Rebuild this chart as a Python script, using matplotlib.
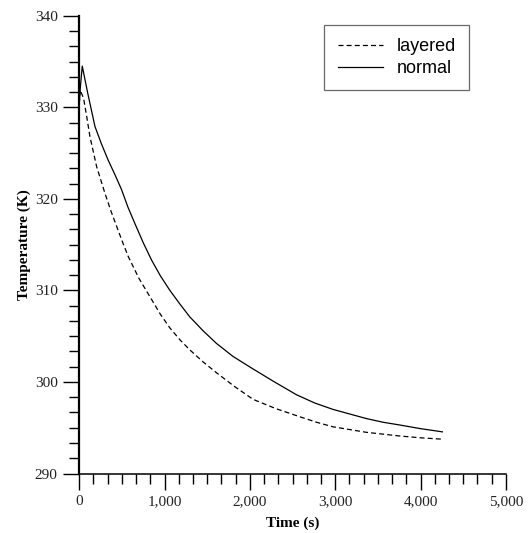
import matplotlib
matplotlib.use("Agg")
import matplotlib.pyplot as plt
from matplotlib.ticker import MultipleLocator, FuncFormatter

# Data
t_layered = [0, 10, 50, 87, 125, 204, 301, 370, 438, 506, 574, 700, 848, 950,
             1062, 1180, 1296, 1450, 1609, 1820, 2037, 2300, 2584, 2780, 2974,
             3170, 3365, 3560, 3755, 4000, 4255]
T_layered = [330.4, 331.9, 331.0, 329.0, 326.8, 323.5, 320.6, 318.7, 317.0, 315.3,
             313.7, 311.3, 309.0, 307.4, 305.9, 304.6, 303.5, 302.2, 301.0, 299.5,
             298.1, 297.1, 296.2, 295.6, 295.1, 294.8, 294.5, 294.3, 294.1, 293.9,
             293.75]

t_normal = [0, 10, 35, 100, 184, 260, 340, 420, 496, 570, 652, 750, 848, 950,
            1062, 1180, 1296, 1450, 1609, 1800, 2005, 2270, 2546, 2760, 2974,
            3170, 3365, 3560, 3755, 4000, 4255]
T_normal = [330.3, 331.9, 334.5, 331.5, 327.9, 326.0, 324.2, 322.6, 321.0, 319.1,
            317.3, 315.2, 313.3, 311.6, 310.0, 308.5, 307.1, 305.6, 304.2, 302.8,
            301.6, 300.1, 298.6, 297.7, 297.0, 296.5, 296.0, 295.6, 295.3, 294.9,
            294.55]

x_label = "Time (s)"
y_label = "Temperature (K)"
legend_labels = ["layered", "normal"]

fig = plt.figure(figsize=(5.32, 5.33), dpi=100)
ax = fig.add_axes([0.149, 0.1116, 0.802, 0.8589])

ax.plot(t_layered, T_layered, color="black", lw=0.9, linestyle=(0, (4, 2.5)),
        label=legend_labels[0])
ax.plot(t_normal, T_normal, color="black", lw=0.9, linestyle="-",
        label=legend_labels[1])

ax.set_xlim(0, 5000)
ax.set_ylim(290, 340)
ax.xaxis.set_major_locator(MultipleLocator(1000))
ax.xaxis.set_minor_locator(MultipleLocator(1000 / 6))
ax.yaxis.set_major_locator(MultipleLocator(10))
ax.yaxis.set_minor_locator(MultipleLocator(10 / 6))
ax.xaxis.set_major_formatter(FuncFormatter(lambda v, p: f"{int(v):,}"))
ax.yaxis.set_major_formatter(FuncFormatter(lambda v, p: f"{int(v)}"))

for s in ("top", "right"):
    ax.spines[s].set_visible(False)
ax.spines["left"].set_linewidth(1.6)
ax.spines["bottom"].set_linewidth(1.1)

ax.tick_params(axis="both", which="major", direction="out", length=11.5, width=1.0,
               labelsize=11, pad=4, colors="black")
ax.tick_params(axis="both", which="minor", direction="out", length=7.5, width=1.0)
for lab in ax.get_xticklabels() + ax.get_yticklabels():
    lab.set_fontfamily("Liberation Serif")
    lab.set_color("#222222")

ax.set_xlabel(x_label, fontfamily="Liberation Serif", fontweight="bold", fontsize=11,
              labelpad=6)
ax.set_ylabel(y_label, fontfamily="Liberation Serif", fontweight="bold", fontsize=11,
              labelpad=3)

leg = ax.legend(loc="upper left", bbox_to_anchor=(0.574, 0.98), frameon=True,
                fancybox=False, edgecolor="#444444", handlelength=2.5,
                handletextpad=0.75, borderpad=0.75, labelspacing=0.25,
                borderaxespad=0.0,
                prop={"family": "Liberation Sans", "size": 13})
leg.get_frame().set_linewidth(0.9)

fig.savefig("out.png", dpi=100, facecolor="white")
